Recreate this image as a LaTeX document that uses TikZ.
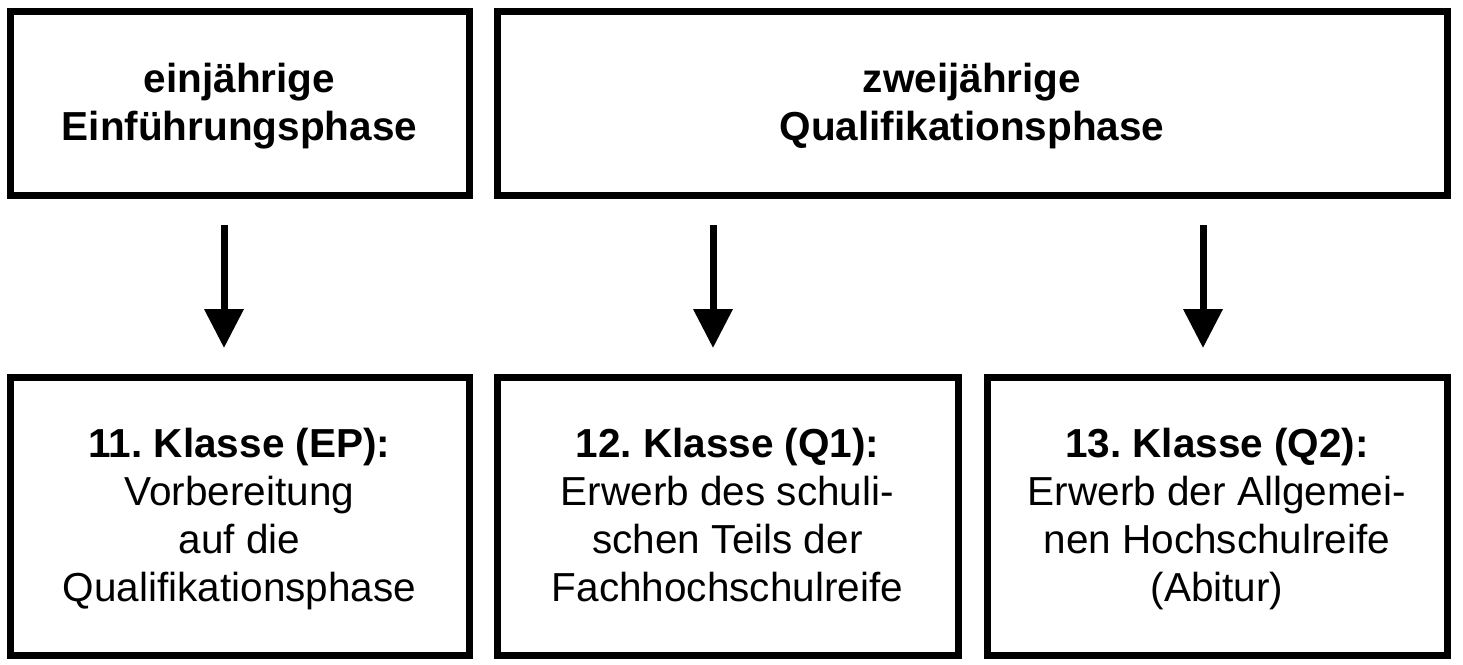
\documentclass[tikz,border=0pt]{standalone}
\usepackage{fontspec}
\setmainfont{Liberation Sans}
\usetikzlibrary{arrows.meta}
\newcommand{\mystrut}{\rule[-10pt]{0pt}{46pt}}
\frenchspacing
\begin{document}
\begin{tikzpicture}[x=1pt,y=-1pt,
  box/.style={draw, line width=7pt, rectangle, align=center, inner sep=0pt,
    font=\fontsize{40.5}{48}\selectfont},
  arr/.style={line width=7pt, -{Triangle[width=38pt,length=39pt]}}]
\useasboundingbox (0,0) rectangle (1463,664);
\node[box, minimum width=459pt, minimum height=183.5pt] (ein) at (239.5,103.25)
  {\mystrut\textbf{einjährige}\\\textbf{Einführungsphase}\mystrut};
\node[box, minimum width=950pt, minimum height=183.5pt] (zwei) at (972,103.25)
  {\mystrut\textbf{zweijährige}\\\textbf{Qualifikationsphase}\mystrut};
\node[box, minimum width=459pt, minimum height=277.5pt] (k11) at (239.5,516.25)
  {\mystrut\textbf{11. Klasse (EP):}\\Vorbereitung\\auf die\\Qualifikationsphase\mystrut};
\node[box, minimum width=461pt, minimum height=277.5pt] (k12) at (727.5,516.25)
  {\mystrut\textbf{12. Klasse (Q1):}\\Erwerb des schuli-\\schen Teils der\\Fachhochschulreife\mystrut};
\node[box, minimum width=460pt, minimum height=277.5pt] (k13) at (1217,516.25)
  {\mystrut\textbf{13. Klasse (Q2):}\\Erwerb der Allgemei-\\nen Hochschulreife\\(Abitur)\mystrut};
\coordinate (a1s) at (224,225);
\coordinate (a1e) at (224,348);
\coordinate (a2s) at (713,225);
\coordinate (a2e) at (713,348);
\coordinate (a3s) at (1203,225);
\coordinate (a3e) at (1203,348);
\draw[arr] (a1s) -- (a1e);
\draw[arr] (a2s) -- (a2e);
\draw[arr] (a3s) -- (a3e);
\end{tikzpicture}
\end{document}
